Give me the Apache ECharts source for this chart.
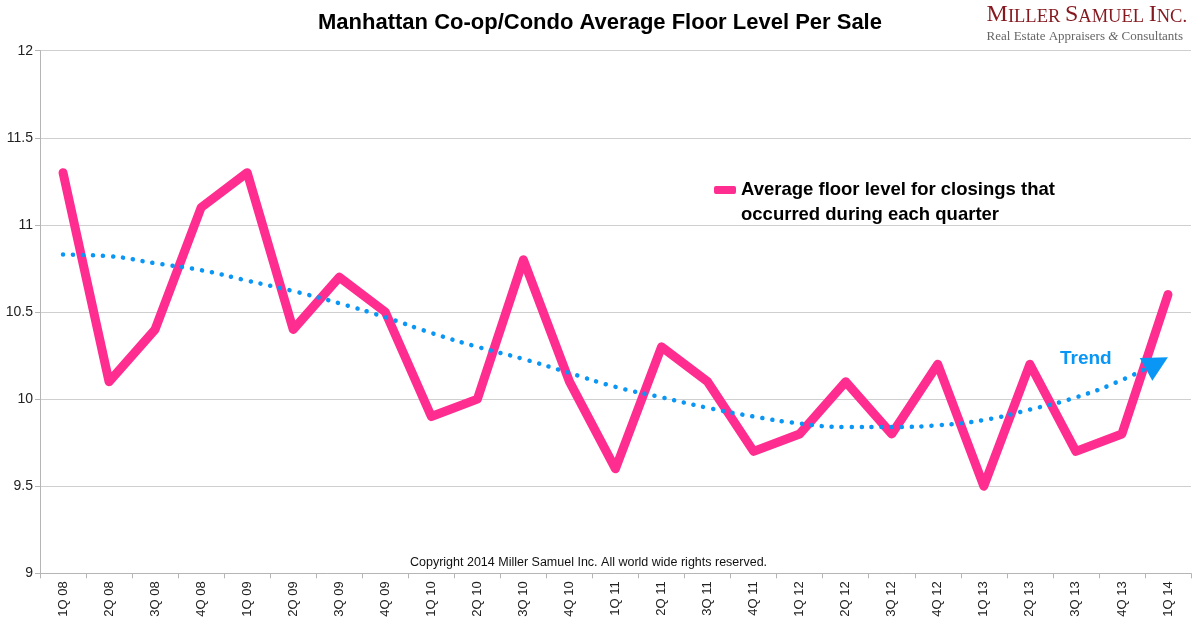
<!DOCTYPE html>
<html>
<head>
<meta charset="utf-8">
<script src="https://cdn.jsdelivr.net/npm/echarts@6/dist/echarts.min.js"></script>
<style>html,body{margin:0;padding:0;background:#fff}#c{width:1200px;height:642px}</style>
</head>
<body>
<div id="c"></div>
<script>
const categories = ['1Q 08','2Q 08','3Q 08','4Q 08','1Q 09','2Q 09','3Q 09','4Q 09','1Q 10','2Q 10','3Q 10','4Q 10','1Q 11','2Q 11','3Q 11','4Q 11','1Q 12','2Q 12','3Q 12','4Q 12','1Q 13','2Q 13','3Q 13','4Q 13','1Q 14'];
const floorLevel = [11.3,10.1,10.4,11.1,11.3,10.4,10.7,10.5,9.9,10.0,10.8,10.1,9.6,10.3,10.1,9.7,9.8,10.1,9.8,10.2,9.5,10.2,9.7,9.8,10.6];
const trend = [10.83,10.82,10.78,10.74,10.68,10.62,10.55,10.47,10.38,10.30,10.23,10.15,10.07,10.01,9.95,9.90,9.86,9.84,9.84,9.85,9.88,9.94,10.01,10.11,10.24];
const yTicks = { min: 9, max: 12, interval: 0.5 };
const seriesName = 'Average floor level for closings that occurred during each quarter';

const trendData = trend.map((v, i) => i === trend.length - 1
  ? { value: v, symbol: 'triangle', symbolSize: [26, 25], symbolRotate: -61, symbolOffset: [-11, 6], itemStyle: { color: '#0a96f5' } }
  : { value: v });

const chart = echarts.init(document.getElementById('c'));
chart.setOption({
  backgroundColor: '#fff',
  animation: false,
  title: {
    text: 'Manhattan Co-op/Condo Average Floor Level Per Sale',
    left: 'center', top: 7,
    textStyle: { fontFamily: 'Liberation Sans, Arial', fontWeight: 'bold', fontSize: 22, color: '#000' }
  },
  grid: { left: 40, right: 9, top: 50.7, bottom: 68.7, containLabel: false },
  legend: {
    data: [{ name: seriesName, icon: 'roundRect', itemStyle: { color: '#ff2d8f' } }],
    left: 709, top: 147.5,
    itemWidth: 22, itemHeight: 8,
    formatter: () => '\nAverage floor level for closings that\noccurred during each quarter',
    textStyle: { fontFamily: 'Liberation Sans, Arial', fontWeight: 'bold', fontSize: 18.5, color: '#000', lineHeight: 25 }
  },
  xAxis: {
    type: 'category',
    data: categories,
    boundaryGap: true,
    axisLine: { lineStyle: { color: '#b5b5b5', width: 1 } },
    axisTick: { show: true, alignWithLabel: false, length: 5, lineStyle: { color: '#b5b5b5' } },
    axisLabel: { rotate: 90, margin: 8, fontFamily: 'Liberation Sans, Arial', fontSize: 13, color: '#222', interval: 0 },
    splitLine: { show: false }
  },
  yAxis: {
    type: 'value',
    min: yTicks.min, max: yTicks.max, interval: yTicks.interval,
    axisLine: { show: true, lineStyle: { color: '#b5b5b5', width: 1 } },
    axisTick: { show: true, length: 5, lineStyle: { color: '#b5b5b5' } },
    axisLabel: { margin: 7, fontFamily: 'Liberation Sans, Arial', fontSize: 14, color: '#222' },
    splitLine: { show: true, lineStyle: { color: '#cfcfcf', width: 1.2 } }
  },
  series: [
    {
      name: seriesName,
      type: 'line',
      data: floorLevel,
      symbol: 'none',
      lineStyle: { color: '#ff2d8f', width: 9, cap: 'round', join: 'round' },
      itemStyle: { color: '#ff2d8f' },
      z: 3
    },
    {
      name: 'Trend',
      type: 'line',
      data: trendData,
      symbol: 'none',
      showSymbol: true,
      showAllSymbol: true,
      smooth: true,
      lineStyle: { color: '#0a96f5', width: 4.5, type: [0.1, 9.9], cap: 'round' },
      itemStyle: { color: '#0a96f5' },
      z: 4
    }
  ],
  graphic: [
    {
      type: 'text', right: 13, top: 3,
      style: {
        text: '{b|M}{s|ILLER }{b|S}{s|AMUEL }{b|I}{s|NC.}',
        rich: {
          b: { fontFamily: 'Liberation Serif, Times New Roman', fontSize: 24, fill: '#84191f', verticalAlign: 'bottom', lineHeight: 26 },
          s: { fontFamily: 'Liberation Serif, Times New Roman', fontSize: 18.5, fill: '#84191f', verticalAlign: 'bottom', lineHeight: 26 }
        }
      }
    },
    {
      type: 'text', right: 17, top: 30,
      style: {
        text: '{n|Real Estate Appraisers }{i|&}{n| Consultants}',
        rich: {
          n: { fontFamily: 'Liberation Serif, Times New Roman', fontSize: 13, fill: '#666' },
          i: { fontFamily: 'Liberation Serif, Times New Roman', fontSize: 13, fontStyle: 'italic', fill: '#666' }
        }
      }
    },
    {
      type: 'text', left: 410, top: 556,
      style: { text: 'Copyright 2014 Miller Samuel Inc. All world wide rights reserved.', fontFamily: 'Liberation Sans, Arial', fontSize: 12.5, fill: '#111' }
    },
    {
      type: 'text', left: 1060, top: 349,
      style: { text: 'Trend', fontFamily: 'Liberation Sans, Arial', fontWeight: 'bold', fontSize: 19, fill: '#0a96f5' }
    }
  ]
});
</script>
</body>
</html>
